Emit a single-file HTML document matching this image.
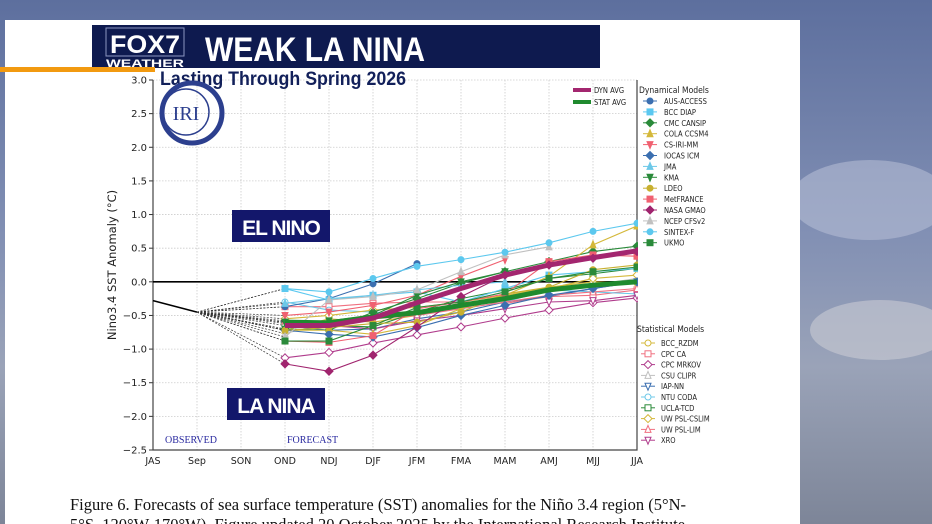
<!DOCTYPE html>
<html><head><meta charset="utf-8"><style>
html,body{margin:0;padding:0;width:932px;height:524px;overflow:hidden;background:#6f7fa6}
svg{display:block}
</style></head><body>
<svg id="chart" width="932" height="524" viewBox="0 0 932 524" xmlns="http://www.w3.org/2000/svg">
<defs>
<linearGradient id="sky" x1="0" y1="0" x2="0" y2="1">
<stop offset="0" stop-color="#5d6f9e"/><stop offset="0.45" stop-color="#8290b4"/><stop offset="0.7" stop-color="#9aa3b8"/><stop offset="1" stop-color="#7d8598"/>
</linearGradient>
</defs>
<rect x="0" y="0" width="932" height="524" fill="url(#sky)"/>
<ellipse cx="870" cy="200" rx="80" ry="40" fill="#b4bdd4" opacity="0.6"/>
<ellipse cx="880" cy="330" rx="70" ry="30" fill="#c9ccd4" opacity="0.6"/>
<rect x="5" y="20" width="795" height="504" fill="#ffffff"/>
<g id="plot"></g>
<!-- header -->
<rect x="92" y="25" width="508" height="43" fill="#0e1a4f"/>
<rect x="106" y="28" width="78" height="28" fill="none" stroke="#8c96c0" stroke-width="1"/>
<text x="110" y="53" font-family="Liberation Sans, sans-serif" font-weight="bold" font-size="25" fill="#fff" textLength="70" lengthAdjust="spacingAndGlyphs">FOX7</text>
<text x="106" y="67" font-family="Liberation Sans, sans-serif" font-weight="bold" font-size="11" fill="#fff" textLength="78" lengthAdjust="spacingAndGlyphs">WEATHER</text>
<text x="205" y="61" font-family="Liberation Sans, sans-serif" font-weight="bold" font-size="34" fill="#fff" textLength="220" lengthAdjust="spacingAndGlyphs">WEAK LA NINA</text>
<rect x="0" y="67" width="155" height="5" fill="#f29a10"/>
<text x="160" y="85" font-family="Liberation Sans, sans-serif" font-weight="bold" font-size="19" fill="#12205a" textLength="246" lengthAdjust="spacingAndGlyphs">Lasting Through Spring 2026</text>
<!-- IRI logo -->
<g>
<circle cx="192" cy="113" r="30" fill="none" stroke="#2c3f8e" stroke-width="5"/>
<circle cx="186" cy="112" r="23" fill="none" stroke="#2c3f8e" stroke-width="1.5"/>
<text x="186" y="120" text-anchor="middle" font-family="Liberation Serif, serif" font-size="20" fill="#2c3f8e">IRI</text>
</g>
<g>
<rect x="232" y="210" width="98" height="32" fill="#13176b"/>
<text x="281" y="235" text-anchor="middle" font-family="Liberation Sans, sans-serif" font-weight="bold" font-size="21" fill="#fff" letter-spacing="-1">EL NINO</text>
</g>
<g>
<rect x="227" y="388" width="98" height="32" fill="#13176b"/>
<text x="276" y="413" text-anchor="middle" font-family="Liberation Sans, sans-serif" font-weight="bold" font-size="21" fill="#fff" letter-spacing="-1">LA NINA</text>
</g>
<text x="165" y="443" font-family="Liberation Serif, serif" font-size="10" fill="#2a2aa0">OBSERVED</text>
<text x="287" y="443" font-family="Liberation Serif, serif" font-size="10" fill="#2a2aa0">FORECAST</text>
<text x="70" y="510" font-family="Liberation Serif, serif" font-size="16.5" fill="#111">Figure 6. Forecasts of sea surface temperature (SST) anomalies for the Niño 3.4 region (5°N-</text>
<text x="70" y="530" font-family="Liberation Serif, serif" font-size="16.5" fill="#111">5°S, 120°W-170°W). Figure updated 20 October 2025 by the International Research Institute</text>
</svg>
<script>
const categories=["JAS","Sep","SON","OND","NDJ","DJF","JFM","FMA","MAM","AMJ","MJJ","JJA"];
const yTicks=[3.0,2.5,2.0,1.5,1.0,0.5,0.0,-0.5,-1.0,-1.5,-2.0,-2.5];
const observed=[-0.28,-0.45];
const dynNames=["AUS-ACCESS","BCC DIAP","CMC CANSIP","COLA CCSM4","CS-IRI-MM","IOCAS ICM","JMA","KMA","LDEO","MetFRANCE","NASA GMAO","NCEP CFSv2","SINTEX-F","UKMO"];
const dynColors=["#3b6fb0","#5bc8f0","#2a8a3a","#d4b83a","#f06070","#3b6fb0","#6cc8e8","#2a8a3a","#c8b030","#f06070","#a0246e","#c0c0c0","#5cc8ee","#2a8a3a"];
const dynMarks=["o","s","D","^","v","D","^","v","o","s","D","^","o","s"];
const statNames=["BCC_RZDM","CPC CA","CPC MRKOV","CSU CLIPR","IAP-NN","NTU CODA","UCLA-TCD","UW PSL-CSLIM","UW PSL-LIM","XRO"];
const statColors=["#d4b83a","#f07080","#b03c8c","#c0c0c0","#3b6fb0","#6cc8e8","#2a8a3a","#d4b83a","#f07080","#b03c8c"];
const statMarks=["o","s","D","^","v","o","s","D","^","v"];
// values OND..JJA (null = none)
const s_aus=[-0.37,-0.25,-0.03,0.27,null,null,null,null,null];
const s_bcc=[-0.1,-0.27,-0.2,-0.15,-0.3,-0.1,0.1,0.15,0.2];
const s_cmc=[-0.7,-0.72,-0.45,-0.25,-0.02,0.15,0.3,0.45,0.53];
const s_cola=[-0.72,-0.72,-0.78,-0.65,-0.4,-0.2,0.08,0.55,0.83];
const s_csiri=[-0.5,-0.45,-0.35,-0.2,0.08,0.33,null,null,null];
const s_iocas=[-0.72,-0.78,-0.82,-0.68,-0.5,-0.35,-0.2,-0.1,0.0];
const s_jma=[-0.32,-0.25,-0.2,-0.12,-0.05,0.0,null,null,null];
const s_kma=[-0.6,-0.58,-0.5,-0.2,0.0,0.15,null,null,null];
const s_ldeo=[-0.72,-0.68,-0.62,-0.6,-0.45,-0.18,-0.08,0.18,0.25];
const s_metf=[-0.88,-0.9,-0.8,-0.4,-0.3,-0.18,0.3,0.4,0.38];
const s_nasa=[-1.22,-1.33,-1.09,-0.67,-0.22,0.1,0.25,0.35,0.45];
const s_ncep=[-0.82,-0.27,-0.22,-0.12,0.15,0.4,0.52,null,null];
const s_sintex=[-0.1,-0.15,0.05,0.23,0.33,0.44,0.58,0.75,0.87];
const s_ukmo=[-0.88,-0.88,-0.65,-0.38,-0.3,-0.15,0.05,0.15,0.22];
const s_bccr=[-0.72,-0.55,-0.6,-0.5,-0.38,-0.2,-0.08,0.0,-0.02];
const s_cpcca=[-0.37,-0.37,-0.32,-0.3,-0.3,-0.32,-0.22,-0.2,-0.12];
const s_mrkov=[-1.13,-1.05,-0.91,-0.79,-0.67,-0.54,-0.42,-0.31,-0.24];
const s_csu=[-0.77,-0.6,-0.55,-0.45,-0.35,-0.2,-0.1,-0.05,0.05];
const s_iap=[-0.65,-0.72,-0.7,-0.55,-0.45,-0.3,-0.22,-0.1,0.0];
const s_ntu=[-0.3,-0.42,-0.45,-0.48,-0.4,-0.3,-0.12,-0.15,-0.18];
const s_ucla=[-0.62,-0.65,-0.67,-0.45,-0.25,-0.12,0.05,0.12,0.2];
const s_cslim=[-0.55,-0.5,-0.42,-0.38,-0.3,-0.2,-0.1,0.05,0.1];
const s_lim=[-0.58,-0.6,-0.55,-0.5,-0.4,-0.3,-0.2,-0.15,-0.1];
const s_xro=[-0.6,-0.65,-0.7,-0.58,-0.5,-0.4,-0.3,-0.28,-0.2];
const dynSeries=[s_aus,s_bcc,s_cmc,s_cola,s_csiri,s_iocas,s_jma,s_kma,s_ldeo,s_metf,s_nasa,s_ncep,s_sintex,s_ukmo];
const statSeries=[s_bccr,s_cpcca,s_mrkov,s_csu,s_iap,s_ntu,s_ucla,s_cslim,s_lim,s_xro];
const dynAvg=[-0.65,-0.65,-0.54,-0.31,-0.1,0.1,0.25,0.36,0.46];
const statAvg=[-0.6,-0.61,-0.52,-0.46,-0.35,-0.25,-0.12,-0.05,0.0];

const NS="http://www.w3.org/2000/svg";
const g=document.getElementById('plot');
const X0=153,X1=637,Y0=80,Y1=450;
const xs=i=>X0+i*(X1-X0)/(categories.length-1);
const ys=v=>Y0+(3-v)*(Y1-Y0)/5.5;
function mk(tag,a,parent){const e=document.createElementNS(NS,tag);for(const k in a)e.setAttribute(k,a[k]);(parent||g).appendChild(e);return e;}
// grid
categories.forEach((c,i)=>{
  const l=mk('line',{x1:xs(i),x2:xs(i),y1:Y0,y2:Y1,stroke:'#ccc','stroke-dasharray':'1.5 1.5','stroke-width':0.8});
  
  
  const t=mk('text',{x:xs(i),y:Y1+14,'text-anchor':'middle','font-family':'DejaVu Sans, sans-serif','font-size':9.5,fill:'#222'});
  t.textContent=c;
  
  
});
yTicks.forEach(v=>{
  const l=mk('line',{x1:X0,x2:X1,y1:ys(v),y2:ys(v),stroke:'#ccc','stroke-dasharray':'1.5 1.5','stroke-width':0.8});
  
  
  mk('line',{x1:X0-4,x2:X0,y1:ys(v),y2:ys(v),stroke:'#333'});
  const t=mk('text',{x:X0-6,y:ys(v)+3.5,'text-anchor':'end','font-family':'DejaVu Sans, sans-serif','font-size':10,fill:'#222'});
  t.textContent=(v<0?'\u2212':'')+Math.abs(v).toFixed(1);
  
  
});
const ax=mk('path',{d:`M${X0},${Y0} V${Y1} H${X1} V${Y0}`,fill:'none',stroke:'#444','stroke-width':1.2});


const yl=mk('text',{x:0,y:0,transform:`translate(116,${(Y0+Y1)/2}) rotate(-90)`,'text-anchor':'middle','font-family':'DejaVu Sans, sans-serif','font-size':11.5,fill:'#222'});
yl.textContent='Nino3.4 SST Anomaly (\u00b0C)';


const zl=mk('line',{x1:X0,x2:X1,y1:ys(0),y2:ys(0),stroke:'#000','stroke-width':1.6});


// observed
const obs=mk('polyline',{points:observed.map((v,i)=>xs(i)+','+ys(v)).join(' '),fill:'none',stroke:'#000','stroke-width':1.5});


function marker(type,x,y,col,filled,parent){
  const f=filled?col:'#fff',r=3;let e;
  if(type==='o')e=mk('circle',{cx:x,cy:y,r:r},parent);
  else if(type==='s')e=mk('rect',{x:x-r,y:y-r,width:2*r,height:2*r},parent);
  else if(type==='D')e=mk('polygon',{points:`${x},${y-r-1} ${x+r+1},${y} ${x},${y+r+1} ${x-r-1},${y}`},parent);
  else if(type==='^')e=mk('polygon',{points:`${x},${y-r-1} ${x+r},${y+r} ${x-r},${y+r}`},parent);
  else e=mk('polygon',{points:`${x},${y+r+1} ${x+r},${y-r} ${x-r},${y-r}`},parent);
  e.setAttribute('fill',f);e.setAttribute('stroke',col);e.setAttribute('stroke-width',1);
  return e;
}
function drawSeries(vals,col,mt,filled,name){
  const sg=mk('g',{});
  
  
  mk('line',{x1:xs(1),y1:ys(observed[1]),x2:xs(3),y2:ys(vals[0]),stroke:'#333','stroke-width':0.7,'stroke-dasharray':'2 1.5'},sg);
  const pts=[];vals.forEach((v,i)=>{if(v!==null)pts.push(xs(i+3)+','+ys(v));});
  mk('polyline',{points:pts.join(' '),fill:'none',stroke:col,'stroke-width':1.1},sg);
  vals.forEach((v,i)=>{if(v!==null)marker(mt,xs(i+3),ys(v),col,filled,sg);});
}
statSeries.forEach((s,k)=>drawSeries(s,statColors[k],statMarks[k],false,'series-'+statNames[k].toLowerCase().replace(/[^a-z0-9]+/g,'-')));
dynSeries.forEach((s,k)=>drawSeries(s,dynColors[k],dynMarks[k],true,'series-'+dynNames[k].toLowerCase().replace(/[^a-z0-9]+/g,'-')));
const sa=mk('polyline',{points:statAvg.map((v,i)=>xs(i+3)+','+ys(v)).join(' '),fill:'none',stroke:'#1f8a2e','stroke-width':5,'stroke-linejoin':'round'});


const da=mk('polyline',{points:dynAvg.map((v,i)=>xs(i+3)+','+ys(v)).join(' '),fill:'none',stroke:'#a3266f','stroke-width':5,'stroke-linejoin':'round'});


// legend
const lg=mk('rect',{x:638,y:81,width:90,height:370,fill:'#fff'});


function legText(x,y,s,size,name){const t=mk('text',{x:x,y:y,'font-family':'DejaVu Sans Condensed, DejaVu Sans, sans-serif','font-size':size,fill:'#222'});t.textContent=s;return t;}
mk('line',{x1:573,x2:591,y1:90,y2:90,stroke:'#a3266f','stroke-width':4});
legText(594,93,'DYN AVG',7.5,'legend-dyn-avg');
mk('line',{x1:573,x2:591,y1:102,y2:102,stroke:'#1f8a2e','stroke-width':4});
legText(594,105,'STAT AVG',7.5,'legend-stat-avg');
legText(639,93,'Dynamical Models',8.5,'legend-dynamical-title');
dynNames.forEach((n,k)=>{
  const y=101+k*10.9;
  const e=mk('line',{x1:643,x2:657,y1:y,y2:y,stroke:dynColors[k],'stroke-width':1});
  
  
  marker(dynMarks[k],650,y,dynColors[k],true);
  legText(664,y+3,n,7.5,'legend-entry');
});
legText(637,332,'Statistical Models',8.5,'legend-statistical-title');
statNames.forEach((n,k)=>{
  const y=343+k*10.8;
  const e=mk('line',{x1:641,x2:655,y1:y,y2:y,stroke:statColors[k],'stroke-width':1});
  
  
  marker(statMarks[k],648,y,statColors[k],false);
  legText(661,y+3,n,7.5,'legend-entry');
});
const svg=document.getElementById('chart');
svg.insertBefore(g,svg.children[5]);
</script>
</body></html>
